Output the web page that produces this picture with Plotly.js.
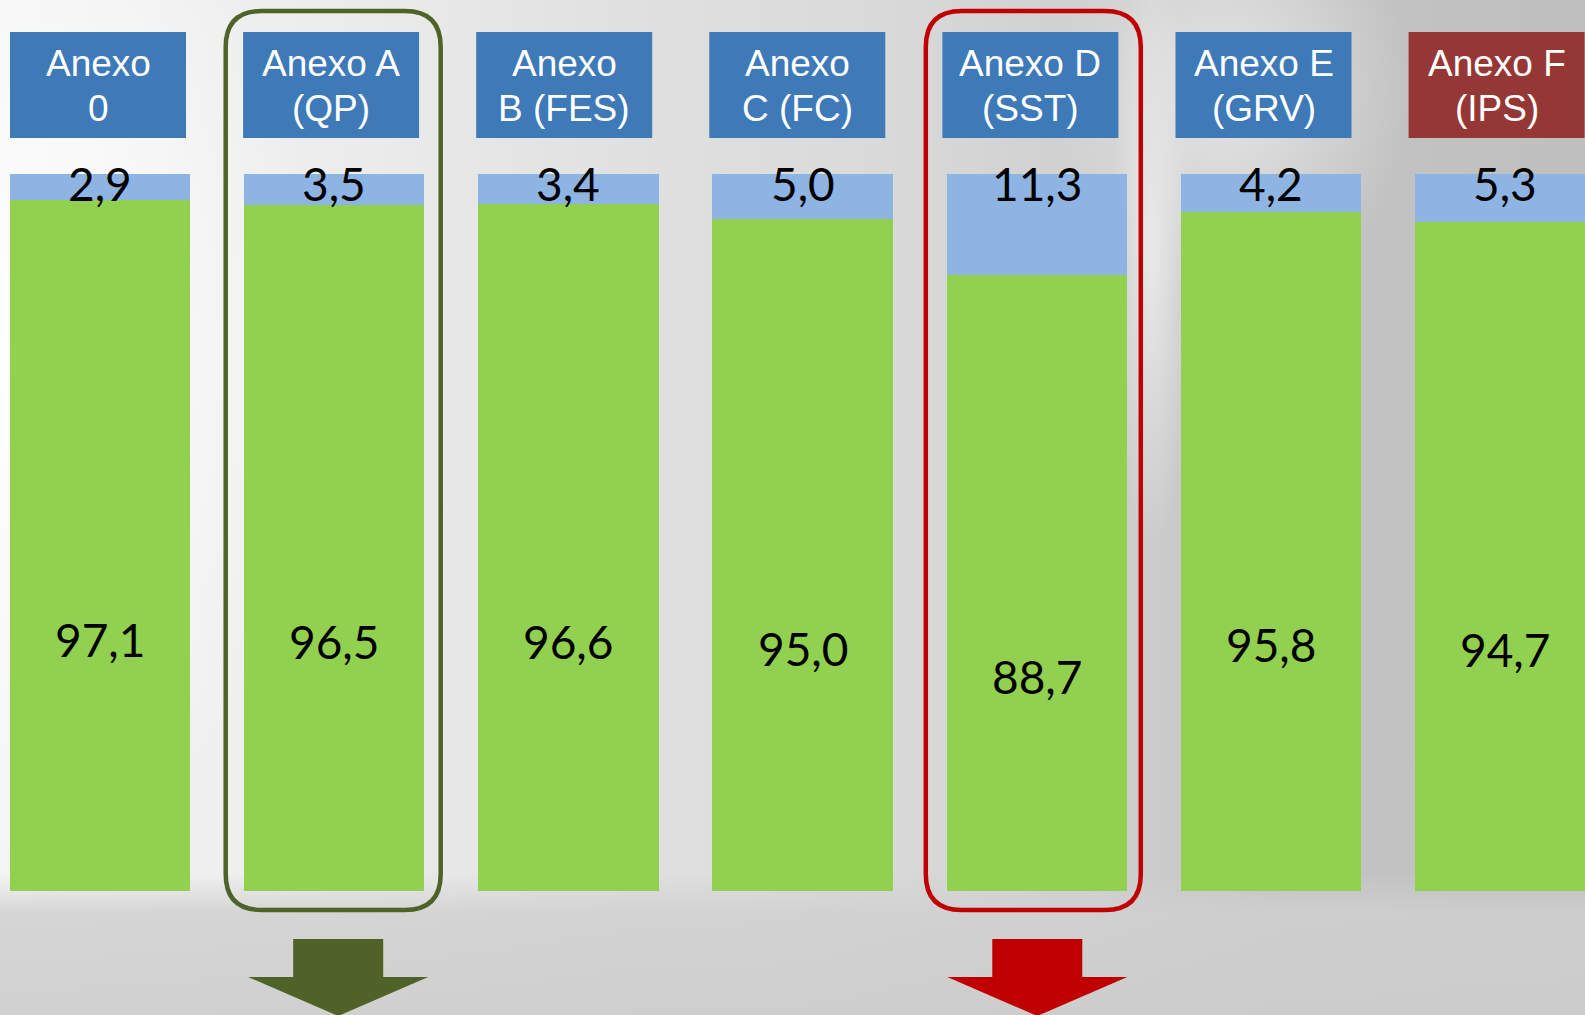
<!DOCTYPE html>
<html>
<head>
<meta charset="utf-8">
<script src="https://cdn.plot.ly/plotly-3.0.1.min.js"></script>
<style>
  html, body { margin: 0; padding: 0; }
  body {
    width: 1585px; height: 1015px; overflow: hidden;
    background:
      linear-gradient(to bottom, rgba(208,208,208,0) 0%, rgba(208,208,208,0) 86%, rgba(208,208,208,0.85) 90%, rgba(205,205,205,0.9) 100%),
      radial-gradient(ellipse 170px 110px at 720px 985px, rgba(226,226,226,0.9), rgba(226,226,226,0) 100%),
      radial-gradient(ellipse 330px 520px at 0px 360px, rgba(255,255,255,0.95), rgba(255,255,255,0) 100%),
      radial-gradient(ellipse 180px 220px at 1230px 90px, rgba(232,232,232,0.9), rgba(232,232,232,0) 100%),
      radial-gradient(ellipse 40px 300px at 1152px 250px, rgba(240,240,240,0.8), rgba(240,240,240,0) 100%),
      linear-gradient(to right, #f5f5f5 0%, #ececec 22%, #e0e0e0 40%, #dadada 55%, #d0d0d0 68%, #c4c4c4 80%, #bfbfbf 100%);
  }
  #chart { width: 1585px; height: 1015px; }
</style>
</head>
<body>
<div id="chart"></div>
<script>
// ---- data ----
const categories = ["Anexo 0", "Anexo A (QP)", "Anexo B (FES)", "Anexo C (FC)", "Anexo D (SST)", "Anexo E (GRV)", "Anexo F (IPS)"];
const headerLine1 = ["Anexo", "Anexo A", "Anexo", "Anexo", "Anexo D", "Anexo E", "Anexo F"];
const headerLine2 = ["0", "(QP)", "B (FES)", "C (FC)", "(SST)", "(GRV)", "(IPS)"];
const greenValues = [97.1, 96.5, 96.6, 95.0, 88.7, 95.8, 94.7];
const blueValues = [2.9, 3.5, 3.4, 5.0, 11.3, 4.2, 5.3];
const goodIndex = 1;   // highlighted in green
const badIndex = 4;    // highlighted in red
const redHeaderIndex = 6;

// ---- styles / geometry ----
const W = 1585, H = 1015;
const M = {t: 174, b: 124, l: 0, r: 0};
const plotH = H - M.t - M.b;
const U = 234.2;                 // pixels per category
const xr0 = -100 / U;
const xr1 = xr0 + W / U;
const dx = p => p / U;           // pixel length -> x units
const py = p => (H - M.b - p) / plotH;   // pixel y from top -> paper y
const fmt = v => v.toFixed(1).replace('.', ',');

const GREEN = '#92D050', LBLUE = '#8EB4E3', HBLUE = '#3E79B8', HRED = '#953735';
const DKGREEN = '#4F6228', RED = '#C00000';

const xs = categories.map((c, i) => i);

const traces = [
  {type: 'bar', x: xs, y: greenValues, width: 0.77, marker: {color: GREEN, line: {width: 0}},
   hovertext: categories, hoverinfo: 'text+y', showlegend: false},
  {type: 'bar', x: xs, y: blueValues, width: 0.77, marker: {color: LBLUE, line: {width: 0}},
   hovertext: categories, hoverinfo: 'text+y', showlegend: false}
];

const shapes = [];
const annotations = [];

categories.forEach((c, i) => {
  const cx = i + dx(-2 - 1.1 * i);
  shapes.push({type: 'rect', xref: 'x', yref: 'paper', layer: 'above',
    x0: cx - dx(88), x1: cx + dx(88), y0: py(138), y1: py(32),
    fillcolor: i === redHeaderIndex ? HRED : HBLUE, line: {width: 0}});
  annotations.push({xref: 'x', yref: 'paper', x: cx, y: py(63), yanchor: 'middle', showarrow: false,
    text: headerLine1[i], font: {family: 'Liberation Sans, Arial', size: 37, color: '#ffffff'}});
  annotations.push({xref: 'x', yref: 'paper', x: cx, y: py(108), yanchor: 'middle', showarrow: false,
    text: headerLine2[i], font: {family: 'Liberation Sans, Arial', size: 37, color: '#ffffff'}});
  annotations.push({xref: 'x', yref: 'y', x: i, y: 100, yanchor: 'middle', yshift: -9, showarrow: false,
    text: fmt(blueValues[i]), font: {family: 'Lato', size: 46, color: '#000000'}});
  annotations.push({xref: 'x', yref: 'y', x: i, y: greenValues[i] / 2, yanchor: 'middle', yshift: -4, showarrow: false,
    text: fmt(greenValues[i]), font: {family: 'Lato', size: 46, color: '#000000'}});
});

function roundRect(cx, hw, top, bottom, r) {
  const x0 = cx - dx(hw), x1 = cx + dx(hw);
  const yt = py(top), yb = py(bottom);
  const rx = dx(r), ry = r / plotH;
  return `M${x0 + rx},${yt} L${x1 - rx},${yt} Q${x1},${yt} ${x1},${yt - ry} ` +
         `L${x1},${yb + ry} Q${x1},${yb} ${x1 - rx},${yb} L${x0 + rx},${yb} ` +
         `Q${x0},${yb} ${x0},${yb + ry} L${x0},${yt - ry} Q${x0},${yt} ${x0 + rx},${yt} Z`;
}
function downArrow(cx) {
  const sw = dx(45), hw = dx(90);
  const yTop = py(939), yHead = py(977), yTip = py(1016);
  return `M${cx - sw},${yTop} L${cx + sw},${yTop} L${cx + sw},${yHead} L${cx + hw},${yHead} ` +
         `L${cx},${yTip} L${cx - hw},${yHead} L${cx - sw},${yHead} Z`;
}

shapes.push({type: 'path', xref: 'x', yref: 'paper', layer: 'above',
  path: roundRect(goodIndex + dx(-1), 107.5, 11, 910, 36), line: {color: DKGREEN, width: 4.5}});
shapes.push({type: 'path', xref: 'x', yref: 'paper', layer: 'above',
  path: roundRect(badIndex + dx(-3.5), 107.5, 11, 910, 36), line: {color: RED, width: 4.5}});
shapes.push({type: 'path', xref: 'x', yref: 'paper', layer: 'above',
  path: downArrow(goodIndex + dx(4)), fillcolor: DKGREEN, line: {width: 0}});
shapes.push({type: 'path', xref: 'x', yref: 'paper', layer: 'above',
  path: downArrow(badIndex + dx(0.5)), fillcolor: RED, line: {width: 0}});

const layout = {
  width: W, height: H,
  margin: M,
  paper_bgcolor: 'rgba(0,0,0,0)',
  plot_bgcolor: 'rgba(0,0,0,0)',
  barmode: 'stack',
  showlegend: false,
  xaxis: {type: 'linear', range: [xr0, xr1], visible: false, fixedrange: true},
  yaxis: {range: [20, 100], visible: false, fixedrange: true},
  shapes: shapes,
  annotations: annotations
};

Plotly.newPlot('chart', traces, layout, {displayModeBar: false, staticPlot: true});
</script>
</body>
</html>
